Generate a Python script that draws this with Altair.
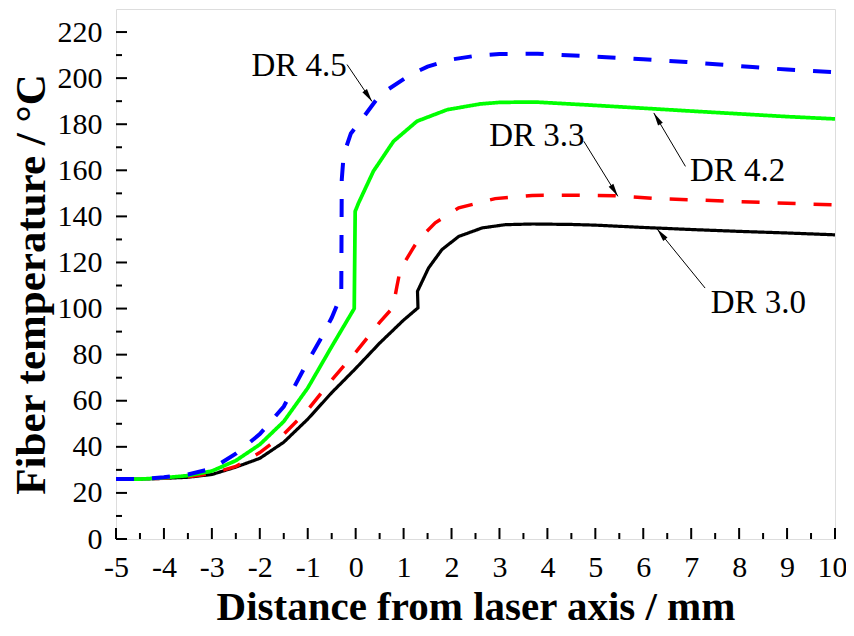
import math
import altair as alt
import pandas as pd

# ---------------- data ----------------
x_dr30 = [-5, -4.5, -4, -3.5, -3, -2.5, -2, -1.5, -1, -0.5, 0, 0.5, 1.0, 1.3, 1.29, 1.52,
          1.8, 2.15, 2.64, 3.12, 3.7, 4.5, 5.0, 6.0, 7.0, 8.0, 9.0, 10.0]
t_dr30 = [26, 26, 26.3, 26.8, 28, 31.2, 35, 42, 52, 63.5, 74, 85, 95, 100.3, 107.5, 117.6,
          125.6, 131.3, 135.0, 136.4, 136.7, 136.5, 136.2, 135.2, 134.3, 133.5, 132.8, 132]

x_dr33 = [-5, -4.5, -4, -3.5, -3, -2.5, -2, -1.5, -1, -0.5, 0, 0.5, 0.78, 0.86, 0.93, 1.18,
          1.31, 1.66, 2.15, 2.91, 3.68, 4.5, 5.4, 6.2, 7, 8, 9, 10]
t_dr33 = [26, 26, 26.4, 27, 28.5, 31.5, 37.5, 45.5, 56, 69, 81, 94, 100.5, 109.6, 116.9,
          125.6, 129.9, 137.2, 143.7, 147.7, 149.1, 149.2, 149, 147.8, 147.2, 146.4, 145.7, 145]

x_dr42 = [-5, -4.5, -4, -3.5, -3, -2.5, -2, -1.5, -1, -0.5, -0.03, -0.01, 0.06, 0.37, 0.79,
          1.28, 1.91, 2.6, 3.02, 3.77, 4.81, 6.2, 7.0, 8.0, 9.0, 10.0]
t_dr42 = [26, 26, 26.6, 27.5, 29.5, 34, 41, 51, 65.5, 83.5, 100, 142.2, 145.8, 159.6, 172.6,
          181.3, 186.3, 188.8, 189.5, 189.6, 188.4, 186.7, 185.7, 184.5, 183.3, 182.3]

x_dr45 = [-5, -4.5, -4, -3.5, -3, -2.5, -2, -1.5, -1, -0.74, -0.5, -0.36, -0.3, -0.29,
          -0.25, -0.1, 0.1, 0.51, 1.14, 1.5, 1.97, 2.5, 3.0, 3.8, 5.23, 6.0, 6.9, 8.28,
          9.0, 10.0]
t_dr45 = [26, 26, 26.8, 28, 30.5, 37, 45.5, 57.5, 77, 86.5, 96, 103, 108, 156, 166.8, 176,
          181.3, 192.8, 201.5, 205, 208, 209.7, 210.5, 210.6, 209.1, 208.2, 207, 204.8,
          203.7, 202.6]

series_names = ["DR 3.0", "DR 3.3", "DR 4.2", "DR 4.5"]
series_colors = ["#000000", "#ff0000", "#00ff00", "#0000ff"]

# annotation labels: text, label x, label y (baseline), arrow start, arrow end
ann_text = ["DR 4.5", "DR 3.3", "DR 4.2", "DR 3.0"]
ann_x = [-1.18, 3.78, 7.97, 8.40]
ann_y = [201.1, 170.4, 155.2, 98.1]
arr_x1 = [-0.18, 4.76, 6.88, 7.29]
arr_y1 = [205.9, 172.6, 161.7, 108.9]
arr_x2 = [0.34, 5.47, 6.22, 6.29]
arr_y2 = [189.9, 148.7, 184.9, 134.5]

x_major = list(range(-5, 11))
x_minor = [v + 0.5 for v in range(-5, 10)]
y_major = list(range(0, 221, 20))
y_minor = list(range(10, 221, 20))

# ---------------- layout ----------------
W, H = 719, 530
XMIN, XMAX, YMIN, YMAX = -5, 10, 0, 230
FONT = "Liberation Serif, Times New Roman, Times, serif"

rows = []
for name, xs, ts in zip(series_names, [x_dr30, x_dr33, x_dr42, x_dr45],
                        [t_dr30, t_dr33, t_dr42, t_dr45]):
    for i, (a, b) in enumerate(zip(xs, ts)):
        rows.append({"x": a, "t": b, "series": name, "i": i})
df = pd.DataFrame(rows)

pxx = W / (XMAX - XMIN)
pxy = H / (YMAX - YMIN)
ann = pd.DataFrame({
    "text": ann_text, "lx": ann_x, "ly": ann_y,
    "x1": arr_x1, "y1": arr_y1, "x2": arr_x2, "y2": arr_y2,
})
ann["ang"] = [
    (math.degrees(math.atan2((b - a) * pxx, (d - c) * pxy)) + 360) % 360
    for a, b, c, d in zip(arr_x1, arr_x2, arr_y1, arr_y2)
]

xs = alt.Scale(domain=[XMIN, XMAX], nice=False, zero=False)
ys = alt.Scale(domain=[YMIN, YMAX], nice=False, zero=False)

lines = alt.Chart(df).mark_line(strokeCap="butt", clip=True).encode(
    x=alt.X("x:Q", scale=xs, axis=alt.Axis(
        values=x_major, labelExpr="'' + datum.value", title="Distance from laser axis / mm",
        domain=False, ticks=False, grid=False, labelFont=FONT, labelFontSize=30,
        labelColor="black", labelPadding=13, labelFlush=False,
        labelOffset={"condition": {"test": "datum.value == 10", "value": -3}, "value": 0},
        titleFont=FONT, titleFontSize=41, titleFontWeight="bold", titleColor="black",
        titleBaseline="alphabetic", titleY=80, titleX=W / 2)),
    y=alt.Y("t:Q", scale=ys, axis=alt.Axis(
        values=y_major, title="Fiber temperature / °C",
        domain=False, ticks=False, grid=False, labelFont=FONT, labelFontSize=30,
        labelColor="black", labelPadding=14, labelFlush=False,
        titleFont=FONT, titleFontSize=43, titleFontWeight="bold", titleColor="black",
        titleAngle=270, titleBaseline="alphabetic", titleAlign="center",
        titleX=-72, titleY=275)),
    color=alt.Color("series:N", scale=alt.Scale(domain=series_names, range=series_colors),
                    legend=None),
    strokeDash=alt.StrokeDash("series:N", scale=alt.Scale(
        domain=series_names, range=[[1, 0], [18, 18], [1, 0], [18, 18]]), legend=None),
    strokeWidth=alt.StrokeWidth("series:N", scale=alt.Scale(
        domain=series_names, range=[3.2, 4, 4, 4.5]), legend=None),
    order="i:Q",
)

xt_major = alt.Chart(pd.DataFrame({"v": x_major})).mark_rule(
    color="black", strokeWidth=2).encode(
    x=alt.X("v:Q", scale=xs), y=alt.value(H), y2=alt.value(H - 11))
xt_minor = alt.Chart(pd.DataFrame({"v": x_minor})).mark_rule(
    color="black", strokeWidth=2).encode(
    x=alt.X("v:Q", scale=xs), y=alt.value(H), y2=alt.value(H - 6))
yt_major = alt.Chart(pd.DataFrame({"v": y_major})).mark_rule(
    color="black", strokeWidth=2).encode(
    y=alt.Y("v:Q", scale=ys), x=alt.value(0), x2=alt.value(11))
yt_minor = alt.Chart(pd.DataFrame({"v": y_minor})).mark_rule(
    color="black", strokeWidth=2).encode(
    y=alt.Y("v:Q", scale=ys), x=alt.value(0), x2=alt.value(6))

labels = alt.Chart(ann).mark_text(
    font=FONT, fontSize=33, color="black", align="center", baseline="alphabetic").encode(
    x=alt.X("lx:Q", scale=xs), y=alt.Y("ly:Q", scale=ys), text="text:N")

arrows = alt.Chart(ann).mark_rule(color="black", strokeWidth=1).encode(
    x=alt.X("x1:Q", scale=xs), y=alt.Y("y1:Q", scale=ys),
    x2="x2:Q", y2="y2:Q")

heads = alt.Chart(ann).mark_point(
    shape="M0,0L0.55,2.6L-0.55,2.6Z", filled=True, color="black", opacity=1,
    size=100, strokeWidth=0).encode(
    x=alt.X("x2:Q", scale=xs), y=alt.Y("y2:Q", scale=ys),
    angle=alt.Angle("ang:Q", scale=None))

chart = alt.layer(lines, xt_major, xt_minor, yt_major, yt_minor, arrows, heads, labels).properties(
    width=W, height=H,
    autosize=alt.AutoSizeParams(type="none"),
    padding={"left": 108, "top": 1, "right": 11, "bottom": 89},
).configure_view(stroke="black", strokeWidth=2).configure(background="white")

chart.save("out.html", embed_options={"renderer": "svg", "actions": False})
